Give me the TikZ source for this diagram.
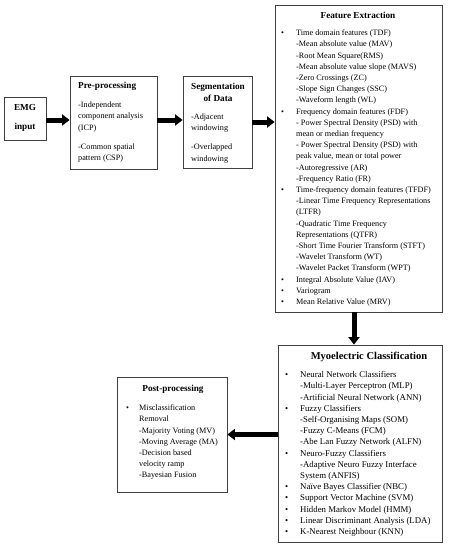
\documentclass[tikz,border=0pt]{standalone}
\usepackage{fontspec}
\setmainfont{Liberation Serif}
\usepackage{array}
\usetikzlibrary{arrows.meta}

\tikzset{
  box/.style={draw=black!75, line width=0.8pt, inner sep=0pt},
  title/.style={font=\fontsize{9.2}{11.2}\selectfont\bfseries, inner sep=0pt},
  list/.style={font=\fontsize{8.2}{11.2}\selectfont, inner sep=0pt, anchor=north west},
  bigarrow/.style={line width=5pt, -{Triangle[length=7.5pt,width=11pt]}}
}

\begin{document}
\begin{tikzpicture}[x=1pt,y=-1pt]
  \useasboundingbox (0,0) rectangle (449,550);

  % boxes
  \node[box, minimum width=42, minimum height=43] (emg) at (25,118.5) {};
  \node[box, minimum width=87, minimum height=93] (pre) at (113.5,122.5) {};
  \node[box, minimum width=69, minimum height=92] (seg) at (217.5,122) {};
  \node[box, minimum width=167, minimum height=307] (fe) at (358.5,158.5) {};
  \node[box, minimum width=164, minimum height=197] (mc) at (360,443.5) {};
  \node[box, minimum width=110, minimum height=115] (pp) at (172,434.5) {};

  % EMG input
  \node[title, anchor=north] (emgtxt) at (25,102.7) {\begin{tabular}{@{}c@{}}EMG\\[7.8pt]input\end{tabular}};

  % pre-processing
  \node[title, anchor=base west] (pretitle) at (78,88.5) {Pre-processing};
  \node[list] (prelist) at (78,99.7) {\begin{tabular}{@{}l@{}}
    -Independent\\
    component analysis\\
    (ICP)\\[7.8pt]
    -Common spatial\\
    pattern (CSP)
  \end{tabular}};

  % segmentation
  \node[title, anchor=north] (segtitle) at (218,81.2) {\begin{tabular}{@{}c@{}}Segmentation\\[0.8pt]of Data\end{tabular}};
  \node[list] (seglist) at (191,111.7) {\begin{tabular}{@{}l@{}}
    -Adjacent\\
    windowing\\[7.8pt]
    -Overlapped\\
    windowing
  \end{tabular}};

  % feature extraction
  \node[title, anchor=base] (fetitle) at (358,18.5) {Feature Extraction};
  \node[list] (felist) at (281,27.7) {\begin{tabular}{@{}p{15pt}@{}l@{}}
    \textbullet & Time domain features (TDF)\\
    & -Mean absolute value (MAV)\\
    & -Root Mean Square(RMS)\\
    & -Mean absolute value slope (MAVS)\\
    & -Zero Crossings (ZC)\\
    & -Slope Sign Changes (SSC)\\
    & -Waveform length (WL)\\
    \textbullet & Frequency domain features (FDF)\\
    & - Power Spectral Density (PSD) with\\
    & mean or median frequency\\
    & - Power Spectral Density (PSD) with\\
    & peak value, mean or total power\\
    & -Autoregressive (AR)\\
    & -Frequency Ratio (FR)\\
    \textbullet & Time-frequency domain features (TFDF)\\
    & -Linear Time Frequency Representations\\
    & (LTFR)\\
    & -Quadratic Time Frequency\\
    & Representations (QTFR)\\
    & -Short Time Fourier Transform (STFT)\\
    & -Wavelet Transform (WT)\\
    & -Wavelet Packet Transform (WPT)\\
    \textbullet & Integral Absolute Value (IAV)\\
    \textbullet & Variogram\\
    \textbullet & Mean Relative Value (MRV)
  \end{tabular}};

  % myoelectric classification
  \node[title, anchor=base, font=\fontsize{10.5}{12}\selectfont\bfseries] (mctitle) at (369,359.5) {Myoelectric Classification};
  \node[list, font=\fontsize{8.8}{11.2}\selectfont] (mclist) at (285,369.7) {\begin{tabular}{@{}p{15pt}@{}l@{}}
    \textbullet & Neural Network Classifiers\\
    & -Multi-Layer Perceptron (MLP)\\
    & -Artificial Neural Network (ANN)\\
    \textbullet & Fuzzy Classifiers\\
    & -Self-Organising Maps (SOM)\\
    & -Fuzzy C-Means (FCM)\\
    & -Abe Lan Fuzzy Network (ALFN)\\
    \textbullet & Neuro-Fuzzy Classifiers\\
    & -Adaptive Neuro Fuzzy Interface\\
    & System (ANFIS)\\
    \textbullet & Naïve Bayes Classifier (NBC)\\
    \textbullet & Support Vector Machine (SVM)\\
    \textbullet & Hidden Markov Model (HMM)\\
    \textbullet & Linear Discriminant Analysis (LDA)\\
    \textbullet & K-Nearest Neighbour (KNN)
  \end{tabular}};

  % post-processing
  \node[title, anchor=base] (pptitle) at (173,391) {Post-processing};
  \node[list] (pplist) at (126,402.7) {\begin{tabular}{@{}p{13pt}@{}l@{}}
    \textbullet & Misclassification\\
    & Removal\\
    & -Majority Voting (MV)\\
    & -Moving Average (MA)\\
    & -Decision based\\
    & velocity ramp\\
    & -Bayesian Fusion
  \end{tabular}};

  % arrows
  \coordinate (row) at (0,120);
  \coordinate (downx) at (354,0);
  \draw[bigarrow] (emg.east |- row) -- (pre.west |- row);
  \draw[bigarrow] (pre.east |- row) -- (seg.west |- row);
  \draw[bigarrow] (seg.east) -- (seg.east -| fe.west);
  \draw[bigarrow] (fe.south -| downx) -- (mc.north -| downx);
  \draw[bigarrow] (mc.west |- pp.east) -- (pp.east);
\end{tikzpicture}
\end{document}
